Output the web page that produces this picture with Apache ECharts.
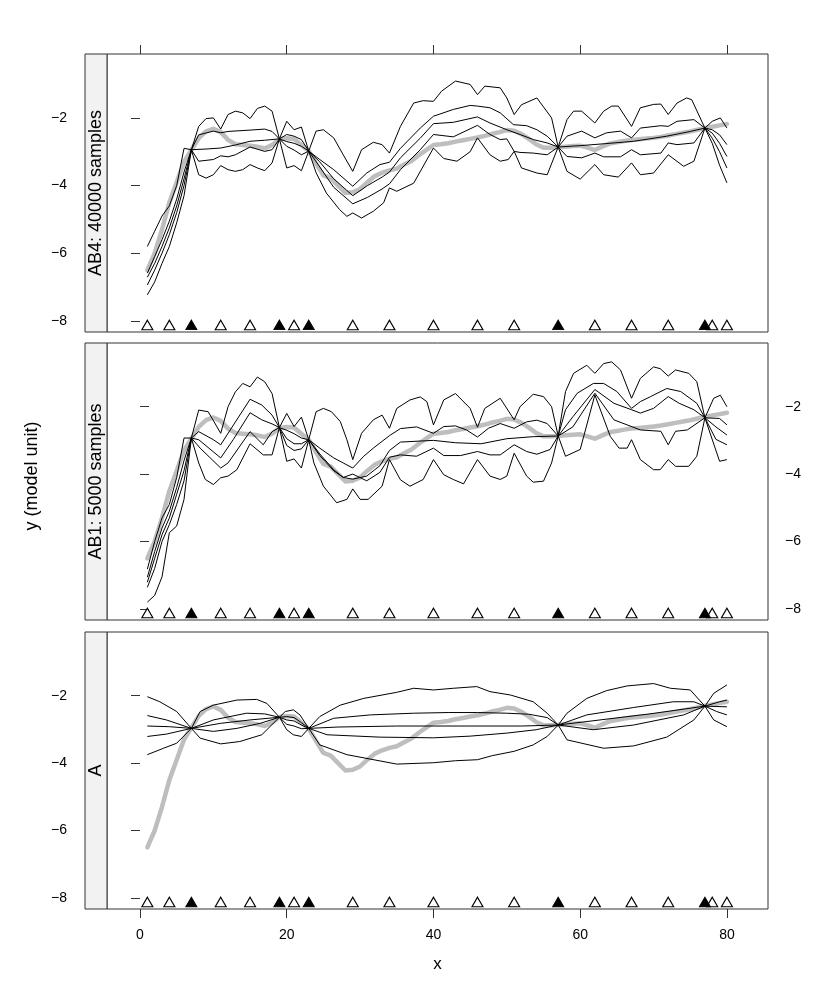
<!DOCTYPE html>
<html>
<head>
<meta charset="utf-8">
<script src="https://cdn.jsdelivr.net/npm/echarts@6/dist/echarts.min.js"></script>
<style>
  html, body { margin: 0; padding: 0; background: #fff; }
  #chart { width: 830px; height: 997px; }
</style>
</head>
<body>
<div id="chart"></div>
<script>
  // data locations (open) and conditioning points (filled)
  const obsX = [1, 4, 11, 15, 21, 29, 34, 40, 46, 51, 62, 67, 72, 78, 80];
  const condX = [7, 19, 23, 57, 77];
  const rugY = -8.12;

  // reference (grey) curve, x = 1..80
  const truth = [
    -6.5, -6.0, -5.3, -4.5, -3.9, -3.3, -2.95, -2.6, -2.4, -2.32,
    -2.42, -2.65, -2.78, -2.8, -2.82, -2.85, -2.9, -2.8, -2.63, -2.6,
    -2.62, -2.8, -2.98, -3.35, -3.7, -3.78, -4.0, -4.22, -4.2, -4.1,
    -3.9, -3.72, -3.62, -3.55, -3.5, -3.38, -3.27, -3.1, -2.95, -2.8,
    -2.78, -2.75, -2.7, -2.66, -2.62, -2.58, -2.53, -2.47, -2.42, -2.36,
    -2.38, -2.48, -2.62, -2.78, -2.88, -2.88, -2.87, -2.85, -2.83, -2.82,
    -2.88, -2.95, -2.85, -2.76, -2.72, -2.68, -2.65, -2.63, -2.61, -2.59,
    -2.56, -2.52, -2.48, -2.44, -2.4, -2.35, -2.3, -2.26, -2.22, -2.18
  ];

  // AB4: 40000 samples
  const ab4_1 = [[1,-5.8],[2,-5.35],[3,-4.9],[4,-4.6],[5,-4.0],[6,-2.9],[7,-2.94],[8,-2.25],[9,-2.02],[10,-2.0],[11,-2.33],[12,-1.9],[13,-1.8],[14,-1.85],[15,-2.02],[16,-1.72],[17,-1.65],[18,-1.8],[19,-2.62],[20,-2.1],[21,-2.35],[22,-2.27],[23,-2.98],[24,-2.39],[25,-2.35],[26.4,-2.59],[27.7,-3.09],[29,-3.58],[30.2,-2.94],[31.8,-2.72],[33,-2.79],[34,-3.04],[35.5,-2.25],[37.3,-1.56],[38.6,-1.49],[40,-1.51],[41.1,-1.21],[43,-0.91],[45,-1.01],[46,-1.31],[47,-1.06],[49.1,-1.11],[50,-1.41],[51,-1.9],[52,-1.61],[54.1,-1.41],[56.1,-2.0],[57,-2.86],[58.2,-2.05],[59.1,-1.8],[60.2,-1.8],[62,-2.15],[63.2,-1.8],[64.3,-1.65],[65.2,-1.65],[67,-2.25],[68.2,-1.7],[70,-1.6],[71,-1.59],[72,-1.9],[73.2,-1.56],[74.5,-1.41],[75.2,-1.46],[77,-2.3],[78,-2.1],[79.1,-2.0],[80,-2.3]];
  const ab4_2 = [[1,-6.59],[2,-6.1],[3,-5.6],[4,-5.05],[5,-4.4],[6,-3.6],[7,-2.94],[8,-2.5],[10,-2.39],[11,-2.44],[12,-2.4],[15,-2.36],[17,-2.33],[18,-2.4],[19,-2.62],[20,-2.49],[21,-2.54],[22,-2.64],[23,-2.98],[24.5,-3.23],[26.4,-3.53],[29,-4.02],[30.9,-3.63],[32.7,-3.38],[34,-3.31],[35.5,-2.9],[38.2,-2.3],[40,-1.95],[42.7,-1.75],[45,-1.63],[46,-1.65],[47.7,-1.7],[49.1,-1.85],[50.9,-2.2],[52.7,-2.23],[54.1,-2.35],[55.5,-2.54],[57,-2.86],[58.2,-2.54],[60.2,-2.39],[62,-2.59],[63.6,-2.44],[65.5,-2.39],[67,-2.59],[68.2,-2.3],[71,-2.23],[72,-2.25],[73.2,-2.1],[75.5,-2.05],[77,-2.3],[78,-2.35],[79,-2.5],[80,-2.79]];
  const ab4_3 = [[1,-6.71],[2,-6.3],[3,-5.8],[4,-5.25],[5,-4.6],[6,-3.8],[7,-2.94],[9,-2.92],[11,-2.89],[13,-2.8],[15,-2.69],[17,-2.66],[19,-2.62],[20,-2.7],[21,-2.75],[22,-2.84],[23,-2.98],[24.5,-3.3],[26.4,-3.8],[29,-4.3],[31,-4.0],[33,-3.75],[34,-3.6],[35.5,-3.18],[38.2,-2.6],[40,-2.17],[42.7,-2.13],[46,-1.97],[47.7,-2.15],[50,-2.35],[51.8,-2.49],[53.6,-2.64],[55.5,-2.74],[57,-2.86],[60,-2.82],[63.5,-2.76],[67.3,-2.69],[71.8,-2.54],[75,-2.4],[77,-2.3],[78,-2.45],[79,-2.75],[80,-3.14]];
  const ab4_4 = [[1,-6.94],[2,-6.5],[3,-6.0],[4,-5.45],[5,-4.8],[6,-4.0],[7,-2.94],[8,-3.28],[10,-3.23],[11,-3.12],[12,-3.15],[13,-3.09],[15,-2.86],[17,-2.99],[18,-2.94],[19,-2.62],[20,-2.84],[21,-2.95],[22,-3.09],[23,-2.98],[24.5,-3.45],[26.4,-4.05],[29,-4.54],[31,-4.35],[33,-4.1],[34,-3.95],[35.5,-3.53],[38.2,-2.94],[40,-2.49],[42.7,-2.56],[46,-2.22],[47.7,-2.49],[49.1,-2.64],[50,-2.62],[51,-2.99],[51.8,-3.02],[53.6,-3.04],[55.5,-3.09],[57,-2.86],[58.2,-3.14],[60.2,-3.18],[62,-3.04],[63.2,-3.15],[65.5,-3.15],[67,-2.94],[68.2,-3.09],[71,-3.04],[72,-2.74],[73.2,-2.79],[75.5,-2.74],[77,-2.3],[78,-2.6],[79,-3.0],[80,-3.48]];
  const ab4_5 = [[1,-7.23],[2,-6.85],[3,-6.3],[4,-5.8],[5,-5.1],[6,-4.3],[7,-2.94],[8,-3.68],[9,-3.78],[10,-3.68],[11,-3.41],[12,-3.53],[13,-3.58],[14,-3.53],[15,-3.38],[16,-3.48],[17,-3.56],[18,-3.33],[19,-2.62],[20,-3.48],[21,-3.41],[22,-3.56],[23,-2.98],[24,-3.62],[25.4,-4.22],[27.2,-4.71],[28.2,-4.91],[29,-4.81],[30.2,-4.96],[31.8,-4.76],[33.2,-4.51],[34,-4.07],[35,-4.17],[37.3,-3.93],[40,-2.89],[41.4,-3.2],[43.2,-3.28],[45,-3.0],[46,-2.59],[47.7,-3.09],[49.1,-3.28],[50.2,-3.23],[51,-2.99],[52,-3.48],[54.1,-3.63],[55.5,-3.68],[57,-2.86],[58.2,-3.58],[60,-3.81],[62,-3.38],[63.2,-3.68],[65.2,-3.75],[67,-3.33],[68.2,-3.68],[70,-3.63],[72,-3.09],[74.1,-3.43],[75.5,-3.28],[77,-2.3],[78,-2.75],[79,-3.4],[80,-3.92]];

  // AB1: 5000 samples
  const ab1_1 = [[1,-6.82],[2,-6.0],[3,-5.3],[4,-4.9],[5,-4.1],[6,-2.93],[7,-2.93],[8,-2.1],[9.3,-2.15],[11,-2.79],[12,-2.0],[13,-1.56],[14,-1.31],[15,-1.41],[16,-1.12],[17,-1.26],[18,-1.61],[19,-2.62],[20,-2.2],[21,-2.59],[22,-2.31],[23,-2.98],[24,-2.15],[25,-2.05],[26.1,-2.15],[27.3,-2.44],[28.2,-2.98],[29,-3.57],[30.2,-2.79],[31.8,-2.39],[33,-2.25],[34,-2.64],[35,-2.05],[36.8,-1.8],[38.2,-1.71],[39.1,-1.85],[40,-2.54],[41.4,-1.8],[43,-1.61],[45,-2.05],[46,-2.61],[47,-2.05],[49.1,-1.75],[51,-2.39],[51.8,-2.0],[53.6,-1.63],[55,-1.7],[56.1,-2.0],[57,-2.87],[58,-1.55],[59.1,-1.01],[60.9,-0.77],[62,-1.01],[63.2,-0.72],[64.3,-0.67],[65.5,-0.91],[67,-1.75],[68.2,-1.16],[70,-0.82],[70.9,-0.87],[72,-1.09],[73,-0.91],[74.8,-1.01],[75.9,-1.26],[77,-2.33],[78.2,-1.75],[79.1,-1.66],[80,-2.0]];
  const ab1_2 = [[1,-7.06],[2,-6.3],[3,-5.6],[4,-5.1],[5,-4.4],[6,-3.6],[7,-2.93],[8,-2.74],[10,-2.98],[11,-3.13],[12.3,-2.69],[15,-1.78],[16.6,-1.95],[18,-2.25],[19,-2.62],[20,-2.7],[21,-2.8],[22,-2.93],[23,-2.98],[24.5,-3.23],[26.4,-3.52],[27.7,-3.67],[29,-3.82],[30.5,-3.47],[31.8,-3.23],[34,-2.86],[35.5,-2.65],[37.7,-2.6],[40,-2.79],[41.4,-2.59],[43,-2.57],[44.5,-2.69],[46,-2.9],[47.5,-2.64],[49.1,-2.5],[51,-2.64],[52.7,-2.45],[54.1,-2.4],[55.5,-2.5],[57,-2.87],[58,-2.09],[59.6,-1.6],[61.8,-1.31],[63.2,-1.31],[65,-1.55],[67,-2.05],[68.2,-1.85],[69.6,-1.7],[71.8,-1.46],[73.7,-1.55],[75.9,-1.9],[77,-2.33],[79,-2.35],[80,-2.54]];
  const ab1_3 = [[1,-7.21],[2,-6.5],[3,-5.8],[4,-5.3],[5,-4.6],[6,-3.9],[7,-2.93],[8,-2.98],[11,-3.52],[12.7,-2.98],[15,-2.18],[16.6,-2.39],[18,-2.51],[19,-2.62],[20,-2.95],[21,-3.1],[22,-3.1],[23,-2.98],[24.5,-3.4],[26.4,-3.87],[27.7,-4.1],[29,-4.15],[30.9,-4.06],[32.7,-3.75],[34,-3.3],[35.5,-3.05],[40,-3.0],[43,-3.07],[46.5,-3.1],[50,-2.95],[53.6,-2.89],[57,-2.87],[59,-2.3],[62,-1.49],[64.6,-1.9],[67,-2.09],[68.2,-2.19],[70,-2.05],[72,-1.7],[73.5,-1.9],[75.5,-2.09],[77,-2.33],[78.5,-2.6],[80,-2.84]];
  const ab1_4 = [[1,-7.36],[2,-6.8],[3,-6.0],[4,-5.5],[5,-4.9],[6,-4.2],[7,-2.93],[8.2,-3.23],[11,-3.82],[12,-3.67],[15,-2.74],[16.8,-3.13],[18,-2.74],[19,-2.62],[20,-3.15],[21,-3.3],[22,-3.25],[23,-2.98],[24.5,-3.45],[26.4,-3.9],[27.7,-4.1],[29,-4.0],[30.9,-4.2],[32.7,-3.95],[34,-3.5],[35.5,-3.43],[37.7,-3.47],[40,-3.23],[41.4,-3.45],[43.7,-3.45],[46,-3.33],[47.7,-3.43],[49.1,-3.43],[51,-3.13],[52.7,-3.33],[54.1,-3.41],[55.9,-3.27],[57,-2.87],[59,-2.6],[62,-1.6],[64.6,-2.39],[68.2,-2.69],[71,-2.73],[72,-3.13],[73,-2.73],[74.6,-2.69],[77,-2.33],[78.5,-2.97],[80,-3.13]];
  const ab1_5 = [[1,-7.8],[2,-7.6],[3,-7.05],[4,-5.74],[5,-5.54],[6,-4.75],[7,-2.93],[8,-3.67],[8.9,-4.16],[10,-4.31],[11,-4.11],[12,-4.06],[13.2,-3.87],[15,-3.1],[16.8,-3.43],[18,-3.43],[19,-2.62],[20,-3.62],[21,-3.55],[22,-3.82],[23,-2.98],[23.7,-3.67],[25,-4.36],[26.8,-4.85],[28.2,-4.75],[29,-4.44],[30,-4.75],[31.1,-4.75],[33,-4.36],[34,-3.57],[35.5,-4.17],[36.8,-4.36],[38.6,-4.16],[40,-3.57],[41.4,-4.02],[42.7,-4.16],[44.1,-4.29],[46,-3.57],[47.7,-4.06],[49.1,-4.16],[50,-4.06],[51,-3.38],[52.7,-4.06],[53.6,-4.24],[55,-4.21],[56.1,-3.67],[57,-2.87],[58,-3.47],[60,-3.27],[62,-1.65],[64.1,-2.88],[65.3,-3.23],[66.4,-3.23],[67,-2.98],[68.2,-3.57],[70,-3.87],[70.9,-3.87],[72,-3.57],[73,-3.77],[74.8,-3.77],[75.9,-3.47],[77,-2.33],[79,-3.62],[80,-3.57]];

  // A
  const a_1 = [[1,-2.03],[2.7,-2.18],[5,-2.47],[7,-2.97],[8.2,-2.47],[10,-2.28],[13.2,-2.13],[15.9,-2.11],[17.3,-2.23],[19,-2.64],[19.8,-2.47],[20.9,-2.42],[21.8,-2.57],[23,-2.97],[24.5,-2.62],[27.3,-2.28],[30.5,-2.08],[35,-1.9],[37.3,-1.78],[40,-1.83],[42.7,-1.78],[45.9,-1.73],[47.7,-1.88],[50.5,-1.98],[53.6,-2.18],[55.5,-2.52],[57,-2.87],[58.2,-2.52],[60.9,-2.08],[63.6,-1.85],[66.4,-1.71],[70,-1.64],[72.3,-1.78],[75,-1.83],[77,-2.31],[78.2,-1.93],[80,-1.68]];
  const a_2 = [[1,-2.59],[3.6,-2.72],[7,-2.97],[10,-2.72],[14.5,-2.52],[17,-2.54],[19,-2.64],[20,-2.62],[21,-2.65],[22,-2.8],[23,-2.97],[26.4,-2.67],[31.4,-2.57],[37.3,-2.52],[42,-2.5],[46,-2.5],[50,-2.52],[53,-2.55],[55.5,-2.65],[57,-2.87],[60.9,-2.57],[67.3,-2.35],[72.7,-2.18],[75.5,-2.18],[77,-2.31],[79,-2.18],[80,-2.13]];
  const a_3 = [[1,-2.9],[4,-2.92],[7,-2.97],[11,-2.82],[15,-2.72],[19,-2.64],[20,-2.72],[21,-2.75],[22,-2.87],[23,-2.97],[27,-2.93],[35,-2.9],[45,-2.9],[52,-2.9],[57,-2.87],[62.7,-2.72],[69.5,-2.54],[77,-2.31],[80,-2.33]];
  const a_4 = [[1,-3.21],[3.6,-3.14],[7,-2.97],[10,-3.06],[13.2,-2.97],[16.4,-2.82],[19,-2.64],[20,-2.85],[21,-2.9],[22,-2.98],[23,-2.97],[25.5,-3.16],[32.7,-3.23],[40,-3.25],[45,-3.2],[50,-3.11],[54,-3.01],[57,-2.87],[61.8,-3.01],[67.3,-2.87],[74.1,-2.57],[77,-2.31],[78.6,-2.47],[80,-2.57]];
  const a_5 = [[1,-3.75],[3.2,-3.56],[5,-3.41],[7,-2.97],[8.2,-3.26],[11,-3.43],[13.6,-3.36],[16.6,-3.16],[19,-2.64],[20,-3.01],[20.9,-3.16],[22,-3.21],[23,-2.97],[24.5,-3.46],[28.2,-3.75],[35,-4.03],[40,-3.99],[43,-3.93],[46,-3.9],[48,-3.78],[51,-3.65],[53.6,-3.46],[55.5,-3.21],[57,-2.87],[58.2,-3.31],[63.2,-3.56],[67.3,-3.49],[71.8,-3.23],[75.5,-2.72],[77,-2.31],[78.2,-2.72],[80,-2.92]];

  const panels = [
    { name: 'AB4: 40000 samples', lines: [ab4_1, ab4_2, ab4_3, ab4_4, ab4_5], top: 54, height: 278 },
    { name: 'AB1: 5000 samples', lines: [ab1_1, ab1_2, ab1_3, ab1_4, ab1_5], top: 343, height: 277 },
    { name: 'A', lines: [a_1, a_2, a_3, a_4, a_5], top: 632, height: 277 }
  ];

  const FONT = 'Liberation Sans, Arial, Helvetica, sans-serif';
  const xTicks = [0, 20, 40, 60, 80];
  const yTicks = [-8, -6, -4, -2];
  const minus = v => String(v).replace('-', '\u2212');

  const truthPts = truth.map((v, i) => [i + 1, v]);

  const grids = [];
  const xAxes = [];
  const yAxes = [];
  const series = [];
  const graphics = [];

  panels.forEach((p, i) => {
    grids.push({
      left: 107, right: 62, top: p.top, height: p.height,
      show: true, borderColor: '#333', borderWidth: 1, backgroundColor: 'transparent',
      containLabel: false, outerBoundsMode: 'none'
    });

    const isTop = i === 0, isBottom = i === 2;
    xAxes.push({
      type: 'value', gridIndex: i, min: -4.5, max: 85.6,
      position: isTop ? 'top' : 'bottom',
      axisLine: { show: false },
      splitLine: { show: false },
      axisTick: { show: isTop || isBottom, length: 9, customValues: xTicks, lineStyle: { color: '#333' } },
      axisLabel: {
        show: isBottom, customValues: xTicks, margin: 19,
        fontFamily: FONT, fontSize: 14, color: '#000'
      },
      name: isBottom ? 'x' : '',
      nameLocation: 'middle', nameGap: 47,
      nameTextStyle: { fontFamily: FONT, fontSize: 17, color: '#000' }
    });

    const onRight = i === 1;
    yAxes.push({
      type: 'value', gridIndex: i, min: -8.33, max: -0.11,
      position: onRight ? 'right' : 'left',
      offset: onRight ? 0 : 22,
      axisLine: { show: false },
      splitLine: { show: false },
      axisTick: { show: true, length: 9, customValues: yTicks, lineStyle: { color: '#333' } },
      axisLabel: {
        show: true, customValues: yTicks, margin: onRight ? 17 : 18,
        formatter: minus, fontFamily: FONT, fontSize: 14, color: '#000'
      }
    });

    series.push({
      type: 'line', xAxisIndex: i, yAxisIndex: i, data: truthPts,
      showSymbol: false, silent: true, z: 1,
      lineStyle: { color: '#bebebe', width: 4.5, cap: 'round', join: 'round' }
    });

    p.lines.forEach(ln => {
      series.push({
        type: 'line', xAxisIndex: i, yAxisIndex: i, data: ln,
        showSymbol: false, silent: true, z: 2,
        lineStyle: { color: '#000', width: 1 }
      });
    });

    series.push({
      type: 'scatter', xAxisIndex: i, yAxisIndex: i,
      data: obsX.map(x => [x, rugY]),
      symbol: 'triangle', symbolSize: [11, 9.5], silent: true, z: 3,
      itemStyle: { color: '#fff', borderColor: '#000', borderWidth: 1.1, opacity: 1 }
    });
    series.push({
      type: 'scatter', xAxisIndex: i, yAxisIndex: i,
      data: condX.map(x => [x, rugY]),
      symbol: 'triangle', symbolSize: [11, 9.5], silent: true, z: 3,
      itemStyle: { color: '#000', borderColor: '#000', borderWidth: 1, opacity: 1 }
    });

    // strip on the left of each panel
    graphics.push({
      type: 'rect', z: 10,
      shape: { x: 85, y: p.top, width: 22, height: p.height },
      style: { fill: '#f2f2f2', stroke: '#333', lineWidth: 1 }
    });
    graphics.push({
      type: 'text', z: 11,
      x: 96.5, y: p.top + p.height / 2, rotation: Math.PI / 2,
      style: {
        text: p.name, font: '18px ' + FONT, fill: '#000',
        align: 'center', verticalAlign: 'middle',
        textAlign: 'center', textVerticalAlign: 'middle'
      }
    });
  });

  graphics.push({
    type: 'text', z: 11,
    x: 32, y: 476, rotation: Math.PI / 2,
    style: {
      text: 'y (model unit)', font: '18px ' + FONT, fill: '#000',
      align: 'center', verticalAlign: 'middle',
      textAlign: 'center', textVerticalAlign: 'middle'
    }
  });

  const chart = echarts.init(document.getElementById('chart'), null, { renderer: 'canvas' });
  chart.setOption({
    animation: false,
    backgroundColor: '#fff',
    grid: grids,
    xAxis: xAxes,
    yAxis: yAxes,
    series: series,
    graphic: graphics
  });
</script>
</body>
</html>
